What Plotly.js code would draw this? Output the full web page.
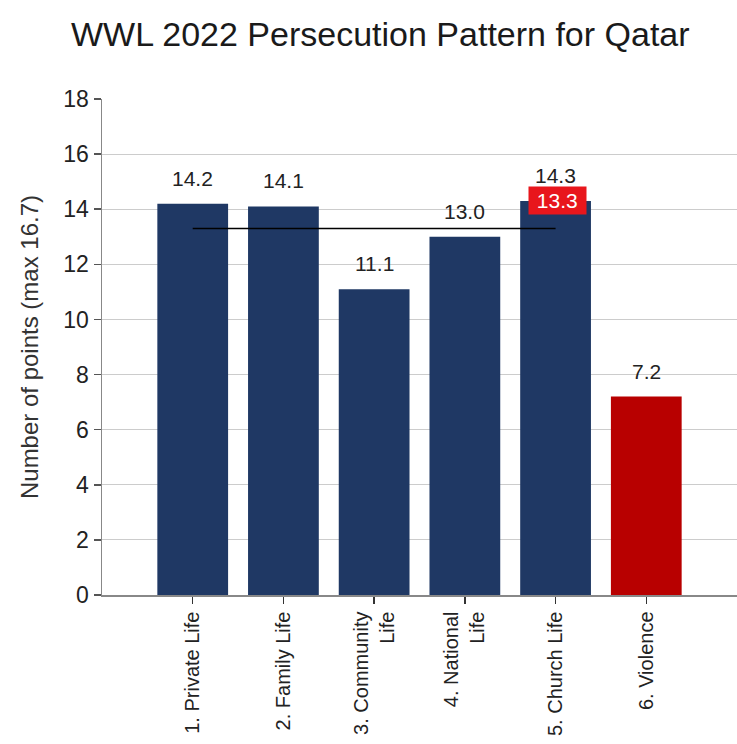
<!DOCTYPE html>
<html>
<head>
<meta charset="utf-8">
<script src="https://cdn.plot.ly/plotly-3.0.1.min.js"></script>
<style>html,body{margin:0;padding:0;background:#fff;}#chart{width:737px;height:744px;}</style>
</head>
<body>
<div id="chart"></div>
<script>
const categories = ["1. Private Life", "2. Family Life", "3. Community<br>Life", "4. National<br>Life", "5. Church Life", "6. Violence"];
const values = [14.2, 14.1, 11.1, 13.0, 14.3, 7.2];
const valueLabels = ["14.2", "14.1", "11.1", "13.0", "14.3", "7.2"];
const barColors = ["#1f3864", "#1f3864", "#1f3864", "#1f3864", "#1f3864", "#b80000"];
const averageValue = 13.3;
const averageLabel = "13.3";
const averageFrom = 0;
const averageTo = 4;

const FONT = "Liberation Sans, Arial, sans-serif";

const bars = {
  type: "bar",
  x: categories,
  y: values,
  marker: {color: barColors, line: {width: 0}},
  width: 0.78,
  hoverinfo: "skip",
  showlegend: false
};

const avgLine = {
  type: "scatter",
  mode: "lines",
  x: [categories[averageFrom], categories[averageTo]],
  y: [averageValue, averageValue],
  line: {color: "#000000", width: 1.6},
  hoverinfo: "skip",
  showlegend: false
};

const annotations = values.map((v, i) => ({
  x: categories[i], y: v, xref: "x", yref: "y",
  text: valueLabels[i], showarrow: false,
  yanchor: "bottom", yshift: 12,
  font: {family: FONT, size: 21, color: "#222222"}
}));
annotations.push({
  x: categories[averageTo], y: values[averageTo], xref: "x", yref: "y",
  text: "&nbsp;" + averageLabel + "&nbsp;", showarrow: false,
  yanchor: "middle", xshift: 2,
  bgcolor: "#e8161c", borderpad: 2,
  font: {family: FONT, size: 21, color: "#ffffff"}
});

const layout = {
  width: 737, height: 744,
  margin: {l: 102, r: 0, t: 99, b: 149},
  paper_bgcolor: "#ffffff",
  plot_bgcolor: "#ffffff",
  title: {
    text: "WWL 2022 Persecution Pattern for Qatar",
    x: 0.516, xanchor: "center", xref: "container",
    y: 0.954, yanchor: "middle",
    font: {family: FONT, size: 34, color: "#1a1a1a"}
  },
  xaxis: {
    type: "category",
    range: [-1, 6],
    tickangle: -90,
    ticks: "outside", ticklen: 7, tickcolor: "#333333", tickwidth: 1.5,
    showline: true, linecolor: "#888888", linewidth: 1.5,
    showgrid: false,
    tickfont: {family: FONT, size: 20, color: "#222222"},
    fixedrange: true
  },
  yaxis: {
    range: [0, 18],
    dtick: 2,
    ticks: "outside", ticklen: 7, tickcolor: "#555555", tickwidth: 1.5,
    showline: true, linecolor: "#888888", linewidth: 1.5,
    gridcolor: "#cccccc", gridwidth: 1.2,
    zeroline: false,
    tickfont: {family: FONT, size: 23, color: "#222222"},
    title: {text: "Number of points (max 16.7)", standoff: 18,
            font: {family: FONT, size: 24, color: "#333333"}},
    fixedrange: true
  },
  annotations: annotations,
  bargap: 0.2
};

Plotly.newPlot("chart", [bars, avgLine], layout, {displayModeBar: false, staticPlot: true});
</script>
</body>
</html>
